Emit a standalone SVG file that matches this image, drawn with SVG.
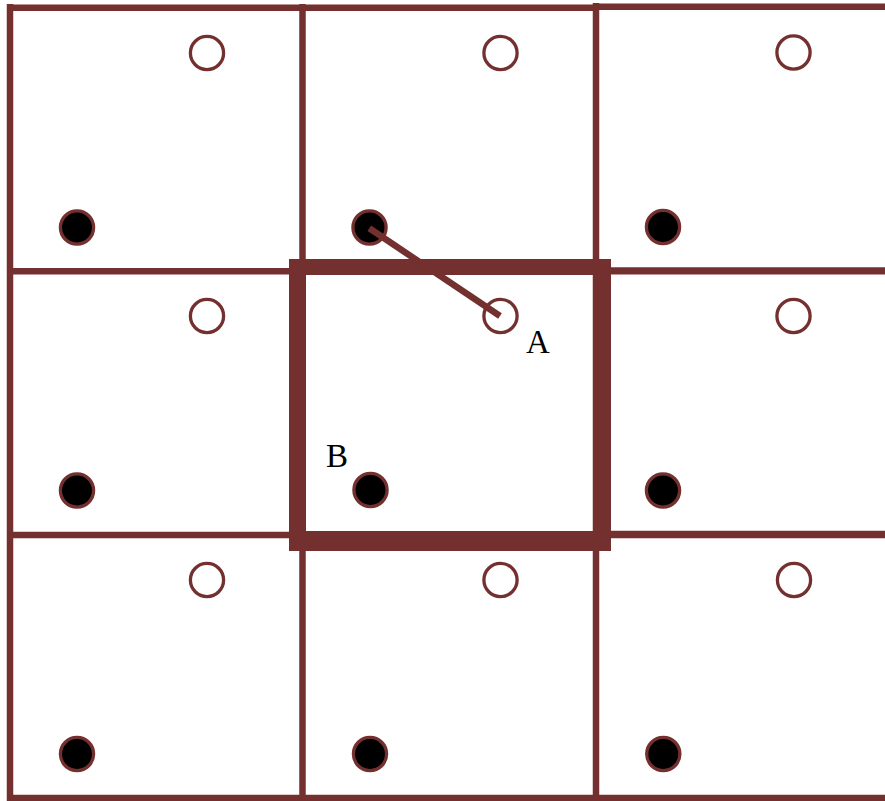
<svg xmlns="http://www.w3.org/2000/svg" width="885" height="801" viewBox="0 0 885 801">
<style>
.grid{stroke:#73302F;stroke-width:6.5;fill:none}
.thick{fill:#73302F}
.open{fill:#ffffff;stroke:#73302F;stroke-width:3.3}
.dot{fill:#000000;stroke:#73302F;stroke-width:3.3}
.link{stroke:#73302F;stroke-width:6.5;fill:none}
.lbl{font-family:"Liberation Serif","DejaVu Serif",serif;font-size:33px;fill:#000000}
</style>
<rect x="0" y="0" width="885" height="801" fill="#ffffff"/>
<g id="grid">
<line class="grid" x1="10" y1="4" x2="10" y2="801"/>
<line class="grid" x1="302.5" y1="4" x2="302.5" y2="801"/>
<line class="grid" x1="596" y1="3" x2="596" y2="801"/>
<line class="grid" x1="7" y1="7.7" x2="596" y2="7.7"/>
<line class="grid" x1="596" y1="6.7" x2="885" y2="6.7"/>
<line class="grid" x1="7" y1="271.3" x2="885" y2="271.3"/>
<line class="grid" x1="596" y1="270.5" x2="885" y2="270.5"/>
<line class="grid" x1="7" y1="535" x2="885" y2="535"/>
<line class="grid" x1="596" y1="534" x2="885" y2="534"/>
<line class="grid" x1="7" y1="798" x2="885" y2="798"/>
</g>
<g id="cell-center">
<rect class="thick" x="289" y="259" width="322" height="16"/>
<rect class="thick" x="289" y="531" width="322" height="20"/>
<rect class="thick" x="289" y="259" width="17" height="292"/>
<rect class="thick" x="593" y="259" width="18" height="292"/>
</g>
<g id="cell-r1c1"><circle class="open" cx="207" cy="53" r="16.6"/><circle class="dot" cx="77" cy="227.5" r="16.6"/></g>
<g id="cell-r1c2"><circle class="open" cx="500.5" cy="53" r="16.6"/><circle class="dot" cx="369.5" cy="227.5" r="16.6"/></g>
<g id="cell-r1c3"><circle class="open" cx="793.5" cy="52.5" r="16.6"/><circle class="dot" cx="663" cy="227" r="16.6"/></g>
<g id="cell-r2c1"><circle class="open" cx="207" cy="316" r="16.6"/><circle class="dot" cx="77" cy="490.5" r="16.6"/></g>
<g id="cell-r2c2"><circle class="open" cx="500.5" cy="316" r="16.6"/><circle class="dot" cx="370.5" cy="490" r="16.6"/>
<text class="lbl" x="526" y="352.5">A</text>
<text class="lbl" x="326" y="467">B</text>
</g>
<g id="cell-r2c3"><circle class="open" cx="793.5" cy="316" r="16.6"/><circle class="dot" cx="663" cy="490.5" r="16.6"/></g>
<g id="cell-r3c1"><circle class="open" cx="207" cy="580" r="16.6"/><circle class="dot" cx="77" cy="754" r="16.6"/></g>
<g id="cell-r3c2"><circle class="open" cx="500.5" cy="580" r="16.6"/><circle class="dot" cx="370" cy="754" r="16.6"/></g>
<g id="cell-r3c3"><circle class="open" cx="794" cy="580" r="16.6"/><circle class="dot" cx="663.3" cy="754" r="16.6"/></g>
<g id="connectors">
<line class="link" x1="369.3" y1="228.3" x2="500" y2="316"/>
</g>
</svg>
